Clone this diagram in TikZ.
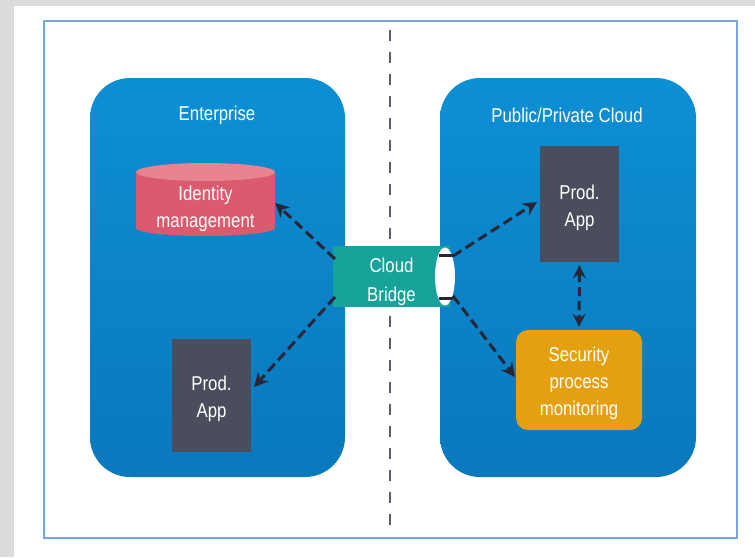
\documentclass[tikz,border=0pt]{standalone}
\usepackage{fontspec}
\setmainfont{Liberation Sans}[FakeStretch=0.84]
\usetikzlibrary{arrows.meta,calc}
\definecolor{bgrey}{HTML}{DCDCDC}
\definecolor{framec}{HTML}{7AA6DE}
\definecolor{zoneTop}{HTML}{0D8FD4}
\definecolor{zoneBot}{HTML}{0A78BD}
\definecolor{appc}{HTML}{4A4E5C}
\definecolor{idmc}{HTML}{DC5A6E}
\definecolor{idmtop}{HTML}{E8848F}
\definecolor{bridgec}{HTML}{17A39A}
\definecolor{secc}{HTML}{E4A010}
\definecolor{arrc}{HTML}{262636}
\tikzset{
  zone/.style={rounded corners=40pt, top color=zoneTop, bottom color=zoneBot, draw=none},
  zonetitle/.style={text=white, font=\fontsize{20}{24}\selectfont},
  appbox/.style={fill=appc, draw=none, text=white, align=center, font=\fontsize{20}{27}\selectfont},
  lbl/.style={text=white, align=center, font=\fontsize{20}{27}\selectfont},
  arr/.style={draw=arrc, line width=3pt, dash pattern=on 10pt off 5pt, -{Stealth[length=14pt,width=14pt]}},
  arr2/.style={draw=arrc, line width=3pt, dash pattern=on 9pt off 5pt, {Stealth[length=13pt,width=13pt]}-{Stealth[length=13pt,width=13pt]}}
}
\begin{document}
\begin{tikzpicture}[x=1pt,y=-1pt]
\useasboundingbox (0,0) rectangle (755,557);
\fill[bgrey] (0,0) rectangle (755,557);
\fill[white] (14,6) rectangle (755,557);
\draw[framec, line width=2pt] (44,21) rectangle (737,538);
% divider
\draw[arrc!75, line width=1.8pt, dash pattern=on 11pt off 11pt] (390,30) -- (390,530);
% zones
\node[zone, minimum width=255pt, minimum height=399pt, inner sep=0pt] (ent) at (217.5,277.5) {};
\node[zone, minimum width=256pt, minimum height=399pt, inner sep=0pt] (cld) at (568,277.5) {};
\node[zonetitle] (entT) at (217,115) {Enterprise};
\node[zonetitle] (cldT) at (567,115) {Public/Private Cloud};
% identity cylinder
\fill[idmc] (136,172) rectangle (275,228);
\fill[idmc] (205.5,228) ellipse [x radius=69.5pt, y radius=8pt];
\fill[idmtop] (205.5,172) ellipse [x radius=69.5pt, y radius=9pt];
\node[minimum width=139pt, minimum height=72pt] (idm) at (205.5,200) {};
\node[lbl] (idmT) at (205.5,209) {Identity\\management};
% prod apps
\node[appbox, minimum width=79pt, minimum height=113pt] (appL) at (211.5,395.5) {};
\node[lbl] (appLT) at (211.5,398.5) {Prod.\\App};
\node[appbox, minimum width=79pt, minimum height=116pt] (appR) at (579.5,204) {};
\node[lbl] (appRT) at (579.5,208) {Prod.\\App};
% security
\node[fill=secc, rounded corners=12pt, minimum width=126pt, minimum height=100pt] (sec) at (579,380) {};
\node[lbl] (secT) at (579,383) {Security\\process\\monitoring};
% cloud bridge
\node[fill=bridgec, minimum width=117pt, minimum height=61pt] (br) at (391.5,276.5) {};
\node[lbl, font=\fontsize{20}{29}\selectfont] (brT) at (391.5,281.5) {Cloud\\Bridge};
\fill[white] (445,276.5) ellipse [x radius=10pt, y radius=29pt];
\coordinate (bR1) at (446,255);
\coordinate (bR2) at (446,298);
\draw[arrc, line width=3pt] ($(bR1)+(-7,0)$) -- ($(bR1)+(7,0)$);
\draw[arrc, line width=3pt] ($(bR2)+(-7,0)$) -- ($(bR2)+(7,0)$);
\coordinate (bL1) at (335,259);
\coordinate (bL2) at (335,297);
% connectors
\draw[arr] (bL1) -- (idm.east |- 0,203) ;
\draw[arr] (bL2) -- (254,387);
\draw[arr] (453,256) -- (537,202);
\draw[arr] (453,296) -- (515,377);
\draw[arr2] (appR.south) ++(0,3) coordinate (v1) (sec.north) ++(0,-3) coordinate (v2) (v1) -- (v2);
\end{tikzpicture}
\end{document}
